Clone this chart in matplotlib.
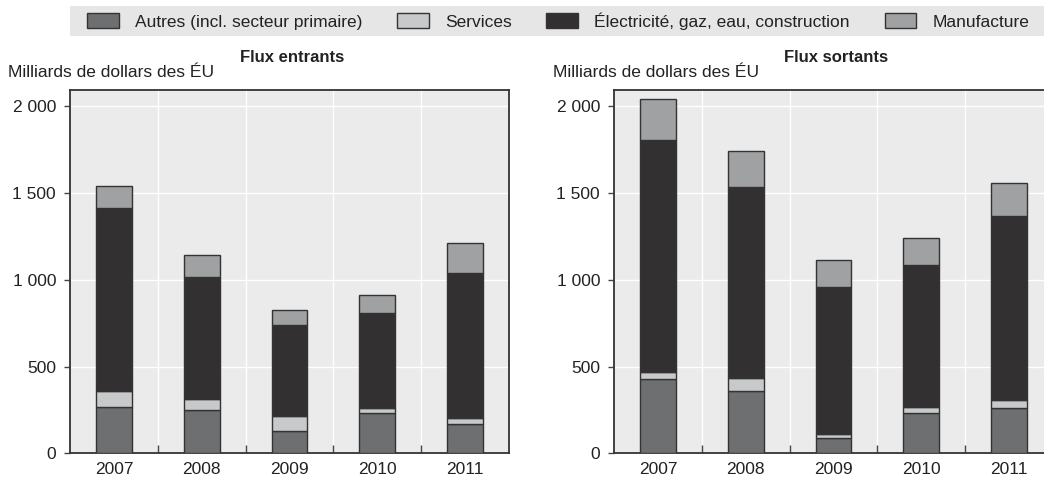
import matplotlib
matplotlib.use("Agg")
import matplotlib.pyplot as plt
from matplotlib.patches import Patch, Rectangle
from matplotlib.ticker import FuncFormatter, FixedLocator
import numpy as np

plt.rcParams['font.family'] = ['Liberation Sans', 'DejaVu Sans']

years = ["2007", "2008", "2009", "2010", "2011"]
series_names = ["Autres (incl. secteur primaire)", "Services",
                "Électricité, gaz, eau, construction", "Manufacture"]
colors = ["#6e6f71", "#c8c9cb", "#323031", "#a0a1a3"]

# Flux entrants (milliards USD)
in_autres = [269, 250, 131, 231, 167]
in_services = [92, 63, 86, 32, 35]
in_elec = [1056, 702, 525, 548, 838]
in_manuf = [123, 127, 85, 104, 171]

# Flux sortants
out_autres = [429, 362, 90, 235, 263]
out_services = [42, 71, 23, 32, 43]
out_elec = [1337, 1100, 847, 818, 1061]
out_manuf = [236, 211, 152, 157, 189]

fig = plt.figure(figsize=(10.44, 4.83), dpi=100)

W, H = 1044, 483
ax_w = 439 / W
ax_b = 1 - 453.3 / H
ax_h = (453.3 - 89.5) / H
ax1 = fig.add_axes([70 / W, ax_b, ax_w, ax_h])
ax2 = fig.add_axes([614 / W, ax_b, ax_w, ax_h])

def fmt(v, pos):
    return f"{int(v):,}".replace(",", " ")

def draw(ax, data):
    x = np.arange(len(years))
    bottom = np.zeros(len(years))
    for vals, c in zip(data, colors):
        ax.bar(x, vals, width=0.41, bottom=bottom, color=c,
               edgecolor="#333333", linewidth=1.0, zorder=3)
        bottom += np.array(vals)
    ax.set_facecolor("#ebebeb")
    ax.set_xlim(-0.5, len(years) - 0.5)
    ax.set_ylim(0, 2098)
    ax.set_yticks([0, 500, 1000, 1500, 2000])
    ax.yaxis.set_major_formatter(FuncFormatter(fmt))
    ax.set_xticks(x)
    ax.set_xticklabels(years)
    ax.xaxis.set_minor_locator(FixedLocator(x[:-1] + 0.5))
    ax.tick_params(axis='x', which='major', length=0, labelsize=12.5, pad=6, colors="#222222")
    ax.tick_params(axis='x', which='minor', length=6, direction='in', width=1, color="#444444")
    ax.tick_params(axis='y', which='major', length=4, direction='out', width=1, labelsize=12.5,
                   color="#444444", labelcolor="#222222", pad=6)
    ax.grid(True, axis='y', color='white', linewidth=1.0, zorder=0)
    ax.grid(True, axis='x', which='minor', color='white', linewidth=1.0, zorder=0)
    for s in ax.spines.values():
        s.set_color("#333333")
        s.set_linewidth(1.3)
    ax.set_axisbelow(True)

draw(ax1, [in_autres, in_services, in_elec, in_manuf])
draw(ax2, [out_autres, out_services, out_elec, out_manuf])

fig.text(292 / W, 1 - 57 / H, "Flux entrants", fontsize=12, fontweight='bold',
         ha='center', va='center', color="#222222")
fig.text(836 / W, 1 - 57 / H, "Flux sortants", fontsize=12, fontweight='bold',
         ha='center', va='center', color="#222222")
fig.text(8 / W, 1 - 72 / H, "Milliards de dollars des ÉU", fontsize=12.5,
         ha='left', va='center', color="#222222")
fig.text(553 / W, 1 - 72 / H, "Milliards de dollars des ÉU", fontsize=12.5,
         ha='left', va='center', color="#222222")

# legend background band
fig.patches.append(Rectangle((70 / W, 1 - 36 / H), 1 - 70 / W, 30 / H,
                   transform=fig.transFigure, facecolor="#e6e6e6", edgecolor='none', zorder=0))
handles = [Patch(facecolor=c, edgecolor="#333333", linewidth=1.0) for c in colors]
leg = fig.legend(handles, series_names, loc='center left', ncol=4,
                 bbox_to_anchor=(87 / W, 1 - 21 / H), frameon=False,
                 fontsize=12.5, handlelength=1.84, handleheight=0.92,
                 handletextpad=0.92, columnspacing=2.0, borderaxespad=0, borderpad=0)
for t in leg.get_texts():
    t.set_color("#222222")

fig.savefig("out.png", dpi=100)
